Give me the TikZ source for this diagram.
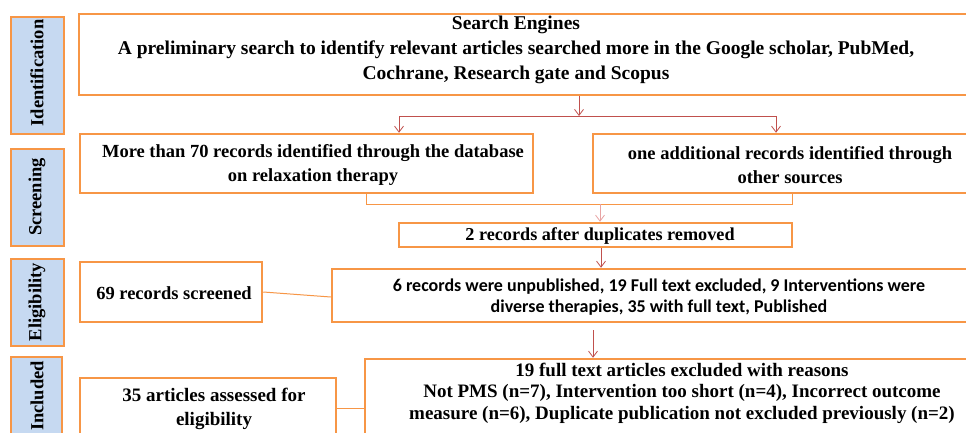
\documentclass[tikz,border=0pt]{standalone}
\usepackage{fontspec}
\setmainfont{Liberation Serif}
\newfontfamily\calib{Carlito}
\usetikzlibrary{fit,arrows.meta}
\definecolor{orn}{HTML}{F79646}
\definecolor{sideblue}{HTML}{C6D9F1}
\definecolor{redl}{HTML}{C0504D}
\definecolor{pinkl}{HTML}{E8A3A3}
\tikzset{
  box/.style={draw=orn, line width=2.5pt, inner sep=0pt},
  side/.style={box, fill=sideblue},
  txt/.style={font=\bfseries\fontsize{18.5}{24}\selectfont, align=center, inner sep=0pt},
  ctxt/.style={font=\calib\bfseries\fontsize{18}{21}\selectfont, align=center, inner sep=0pt},
  stxt/.style={font=\bfseries\fontsize{18.5}{22}\selectfont, rotate=90, inner sep=0pt},
  arr/.style={draw=redl, line width=0.8pt, -{Straight Barb[length=6pt,width=9pt]}},
  redline/.style={draw=redl, line width=0.8pt},
  oline/.style={draw=orn, line width=1pt},
}
\begin{document}
\begin{tikzpicture}[x=1pt,y=-1pt]
\clip (0,0) rectangle (966,432);
\fill[white] (0,0) rectangle (966,432);
% side labels
\node[side, fit={(11,17) (64,134)}] (idL) {};
\node[side, fit={(11,149) (64,246)}] (scL) {};
\node[side, fit={(11,259) (64,346)}] (elL) {};
\node[side, fit={(11,357) (62,448)}] (inL) {};
\node[stxt] (tid) at (37,73) {Identification};
\node[stxt] (tsc) at (37,197) {Screening};
\node[stxt] (tel) at (37,302) {Eligibility};
\node[stxt] (tin) at (37,396) {Included};
% boxes
\node[box, fit={(79,14) (975,95)}] (search) {};
\node[box, fit={(80,134) (533,193)}] (boxA) {};
\node[box, fit={(593,134) (975,193)}] (boxB) {};
\node[box, fit={(399,223) (792,247)}] (dup) {};
\node[box, fit={(80,262) (262,322)}] (scr) {};
\node[box, fit={(332,269) (975,322)}] (elig) {};
\node[box, fit={(80,378) (336,448)}] (art) {};
\node[box, fit={(365,359) (975,448)}] (excl) {};
% texts
\node[txt, font=\bfseries\fontsize{19.5}{25}\selectfont] (tsearch) at (516,50) {Search Engines\\A preliminary search to identify relevant articles searched more in the Google scholar, PubMed,\\Cochrane, Research gate and Scopus};
\node[txt] (tA) at (313,165) {More than 70 records identified through the database\\on relaxation therapy};
\node[txt] (tB) at (790,165) {one additional records identified through\\other sources};
\node[txt, font=\bfseries\fontsize{18.2}{24}\selectfont] (tdup) at (600,236) {2 records after duplicates removed};
\node[txt] (tscr) at (174,293) {69 records screened};
\node[ctxt] (telig) at (659,297) {6 records were unpublished, 19 Full text excluded, 9 Interventions were\\diverse therapies, 35 with full text, Published};
\node[txt, font=\bfseries\fontsize{19}{24.5}\selectfont] (tart) at (214,409) {35 articles assessed for\\eligibility};
\node[txt, font=\bfseries\fontsize{19}{21.5}\selectfont] (texcl) at (682,393) {19 full text articles excluded with reasons\\Not PMS (n=7), Intervention too short (n=4), Incorrect outcome\\measure (n=6), Duplicate publication not excluded previously (n=2)};
% connectors
\coordinate (j1) at (579,116);
\coordinate (jl) at (399,116);
\coordinate (jr) at (776,116);
\draw[arr] (search.south -| j1) -- (j1);
\draw[redline] (jl) -- (jr);
\draw[arr] (jl) -- (jl |- boxA.north);
\draw[arr] (jr) -- (jr |- boxB.north);
\coordinate (m1) at (366,204);
\coordinate (m2) at (792,204);
\coordinate (m3) at (600,204);
\draw[oline] (boxA.south -| m1) -- (m1) -- (m2) -- (boxB.south -| m2);
\draw[arr, draw=pinkl] (m3) -- (m3 |- dup.north);
\draw[arr] (dup.south -| 601,0) -- (elig.north -| 601,0);
\draw[oline] (scr.east |- 0,292) -- (elig.west |- 0,297);
\draw[arr] (593,330) -- (excl.north -| 593,0);
\draw[oline] (art.east |- 0,408) -- (excl.west |- 0,408);
\end{tikzpicture}
\end{document}
